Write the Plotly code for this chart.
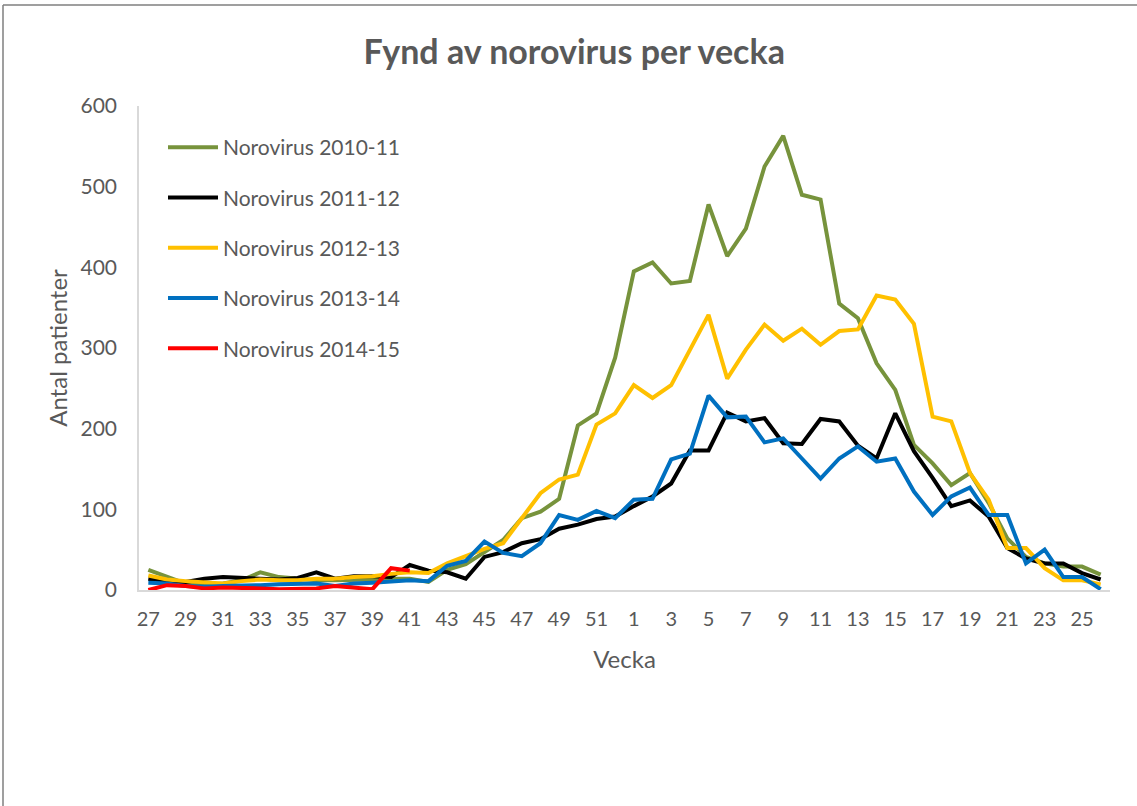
import plotly.graph_objects as go

weeks = list(range(27, 53)) + list(range(1, 27))
categories = [str(w) for w in weeks]

noro_2010_11 = [25, 16, 8, 6, 8, 12, 22, 16, 14, 12, 12, 12, 13, 14, 14, 10,
                25, 32, 47, 62, 89, 97, 113, 204, 219, 288,
                395, 406, 380, 383, 478, 414, 448, 525, 563, 490, 484, 355, 337,
                281, 248, 180, 157, 130, 145, 108, 64, 41, 33, 29, 29, 19]
noro_2011_12 = [14, 10, 10, 14, 16, 15, 14, 13, 15, 22, 14, 17, 17, 16, 31, 24,
                22, 14, 41, 47, 58, 63, 76, 81, 88, 91,
                104, 116, 132, 173, 173, 220, 209, 213, 182, 181, 212, 209, 179,
                163, 219, 172, 139, 104, 111, 91, 52, 39, 33, 33, 21, 13]
noro_2012_13 = [18, 13, 11, 9, 8, 11, 13, 12, 12, 14, 14, 16, 17, 20, 22, 21,
                33, 42, 51, 58, 89, 120, 137, 143, 205, 219,
                254, 238, 254, 297, 341, 262, 298, 329, 309, 324, 304, 321, 323,
                365, 360, 330, 215, 209, 145, 112, 52, 52, 27, 12, 12, 7]
noro_2013_14 = [9, 8, 5, 4, 5, 5, 6, 7, 8, 8, 5, 8, 9, 10, 12, 11,
                30, 36, 60, 46, 42, 58, 93, 87, 98, 89,
                112, 113, 162, 169, 241, 214, 215, 183, 188, 163, 138, 163, 178,
                159, 163, 122, 93, 116, 127, 93, 93, 33, 50, 16, 16, 1]
noro_2014_15 = [0, 6, 5, 2, 3, 3, 2, 1, 1, 2, 5, 3, 1, 27, 24]

series = [
    ("Norovirus 2010-11", noro_2010_11, "#77933C"),
    ("Norovirus 2011-12", noro_2011_12, "#000000"),
    ("Norovirus 2012-13", noro_2012_13, "#FFC000"),
    ("Norovirus 2013-14", noro_2013_14, "#0070C0"),
    ("Norovirus 2014-15", noro_2014_15, "#FF0000"),
]

tick_labels = categories[::2]

FONT = "Lato"
GREY = "#595959"

fig = go.Figure()
for i, (name, vals, color) in enumerate(series):
    fig.add_trace(go.Scatter(
        x=categories[:len(vals)], y=vals, name=name, mode="lines",
        line=dict(color=color, width=4), legendgroup=f"g{i}",
    ))

W, H = 1137, 806
L, R, T, B = 139, 27, 106, 216
pw, ph = W - L - R, H - T - B

def px(x):
    return (x - L) / pw

def py(y):
    return (H - B - y) / ph

fig.update_layout(
    width=W, height=H,
    margin=dict(l=L, r=R, t=T, b=B),
    paper_bgcolor="white", plot_bgcolor="white",
    font=dict(family=FONT, color=GREY, size=20),
    title=dict(text="<b>Fynd av norovirus per vecka</b>", x=0.505, xanchor="center",
               y=1 - 52 / H, yanchor="middle",
               font=dict(size=34, color=GREY, family=FONT)),
    xaxis=dict(
        type="category", categoryorder="array", categoryarray=categories,
        range=[-0.5, len(categories) - 0.5],
        tickmode="array", tickvals=tick_labels, ticktext=tick_labels,
        showgrid=False, showline=True, linecolor="#D9D9D9", linewidth=1.5,
        ticks="", tickfont=dict(size=20, color=GREY), ticklabelstandoff=10,
        title=dict(text="Vecka", font=dict(size=24, color=GREY), standoff=22),
        zeroline=False,
    ),
    yaxis=dict(
        range=[0, 600], tickvals=[0, 100, 200, 300, 400, 500, 600],
        showgrid=False, showline=True, linecolor="#D9D9D9", linewidth=1.5,
        ticks="", tickfont=dict(size=21, color=GREY), zeroline=False,
        title=dict(text="Antal patienter", font=dict(size=24, color=GREY), standoff=6),
        ticklabelstandoff=16,
    ),
    legend=dict(
        x=px(163), y=py(127), xanchor="left", yanchor="top",
        bgcolor="rgba(0,0,0,0)", font=dict(size=21, color=GREY),
        traceorder="grouped", tracegroupgap=20, itemwidth=50,
    ),
    showlegend=True,
    shapes=[
        dict(type="line", xref="paper", yref="paper", x0=px(3), x1=px(1140),
             y0=py(5), y1=py(5), line=dict(color="#7F7F7F", width=1.5)),
        dict(type="line", xref="paper", yref="paper", x0=px(3), x1=px(3),
             y0=py(5), y1=py(810), line=dict(color="#7F7F7F", width=1.5)),
    ],
)

fig.write_html("out.html", config={"displayModeBar": False},
               post_script="document.body.style.margin='0';")
